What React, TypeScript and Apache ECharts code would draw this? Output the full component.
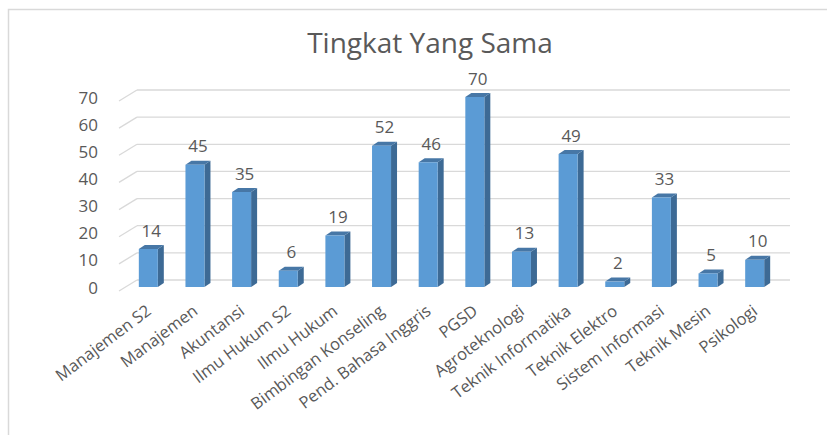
import React, { useEffect, useRef } from "react";
import * as echarts from "echarts";

const categories = [
  "Manajemen S2",
  "Manajemen",
  "Akuntansi",
  "Ilmu Hukum S2",
  "Ilmu Hukum",
  "Bimbingan Konseling",
  "Pend. Bahasa Inggris",
  "PGSD",
  "Agroteknologi",
  "Teknik Informatika",
  "Teknik Elektro",
  "Sistem Informasi",
  "Teknik Mesin",
  "Psikologi",
];
const values = [14, 45, 35, 6, 19, 52, 46, 70, 13, 49, 2, 33, 5, 10];
const yTicks = [0, 10, 20, 30, 40, 50, 60, 70];
const titleText = "Tingkat Yang Sama";

const FONT = "'Open Sans', 'Noto Sans', sans-serif";
const TXT = "#595959";
const GRIDC = "#D9D9D9";
const FRONT = "#5B9BD5";
const SIDE = "#3D6A95";
const TOP = "#4777A6";

export default function App() {
  const ref = useRef<HTMLDivElement>(null);
  useEffect(() => {
    document.body.style.margin = "0";
    if (!ref.current) return;
    const chart = echarts.init(ref.current, undefined, { renderer: "svg" });
    const BW = 19;
    const DX = 6;
    const DY = -4;
    chart.setOption({
      animation: false,
      backgroundColor: "#ffffff",
      title: {
        text: titleText,
        left: 425,
        top: 23,
        textAlign: "center",
        textStyle: { fontFamily: FONT, fontSize: 28, fontWeight: "normal", color: TXT },
      },
      graphic: [
        {
          type: "rect",
          shape: { x: 8.5, y: 9.5, width: 900, height: 600 },
          style: { fill: "none", stroke: GRIDC, lineWidth: 1.5 },
          silent: true,
          z: -10,
        },
      ],
      grid: { left: 125, right: 49, top: 97, bottom: 148, containLabel: false },
      xAxis: {
        type: "category",
        data: categories,
        axisLine: { show: false },
        axisTick: { show: false },
        splitLine: { show: false },
        axisLabel: {
          interval: 0,
          rotate: 37,
          margin: 21,
          color: TXT,
          fontFamily: FONT,
          fontSize: 16.5,
        },
      },
      yAxis: {
        type: "value",
        min: 0,
        max: 70,
        interval: 10,
        axisLine: { show: false },
        axisTick: { show: false },
        splitLine: { show: false },
        axisLabel: {
          margin: 27,
          color: TXT,
          fontFamily: FONT,
          fontSize: 17,
          padding: [9, 0, 0, 0],
        },
      },
      series: [
        {
          type: "custom",
          z: 1,
          silent: true,
          data: yTicks.map((t) => [0, t]),
          renderItem: (params: any, api: any) => {
            const cs = params.coordSys;
            const p = api.coord([0, api.value(1)]);
            const y = p[1] - 7;
            const x0 = cs.x + 12;
            const x1 = cs.x + cs.width + 12;
            return {
              type: "group",
              children: [
                {
                  type: "line",
                  shape: { x1: x0, y1: y, x2: x1, y2: y },
                  style: { stroke: GRIDC, lineWidth: 1.3 },
                },
                {
                  type: "line",
                  shape: { x1: x0, y1: y, x2: x0 - 18, y2: y + 11 },
                  style: { stroke: GRIDC, lineWidth: 1.3 },
                },
              ],
            };
          },
        },
        {
          type: "custom",
          z: 2,
          data: values.map((v, i) => [i, v]),
          renderItem: (params: any, api: any) => {
            const top = api.coord([api.value(0), api.value(1)]);
            const base = api.coord([api.value(0), 0]);
            const cx = top[0];
            const ty = top[1];
            const by = base[1];
            const l = cx - BW / 2;
            const r = cx + BW / 2;
            return {
              type: "group",
              children: [
                {
                  type: "polygon",
                  shape: { points: [[r, ty], [r + DX, ty + DY], [r + DX, by + DY], [r, by]] },
                  style: { fill: SIDE },
                },
                {
                  type: "polygon",
                  shape: { points: [[l, ty], [r, ty], [r + DX, ty + DY], [l + DX, ty + DY]] },
                  style: { fill: TOP },
                },
                {
                  type: "rect",
                  shape: { x: l, y: ty, width: BW, height: by - ty },
                  style: { fill: FRONT },
                },
                {
                  type: "text",
                  x: cx + 3,
                  y: ty - 19,
                  style: {
                    text: String(api.value(1)),
                    fill: TXT,
                    font: `17px ${FONT}`,
                    align: "center",
                    verticalAlign: "middle",
                  },
                },
              ],
            };
          },
        },
      ],
    });
    return () => chart.dispose();
  }, []);
  return <div ref={ref} style={{ width: 827, height: 435 }} />;
}
